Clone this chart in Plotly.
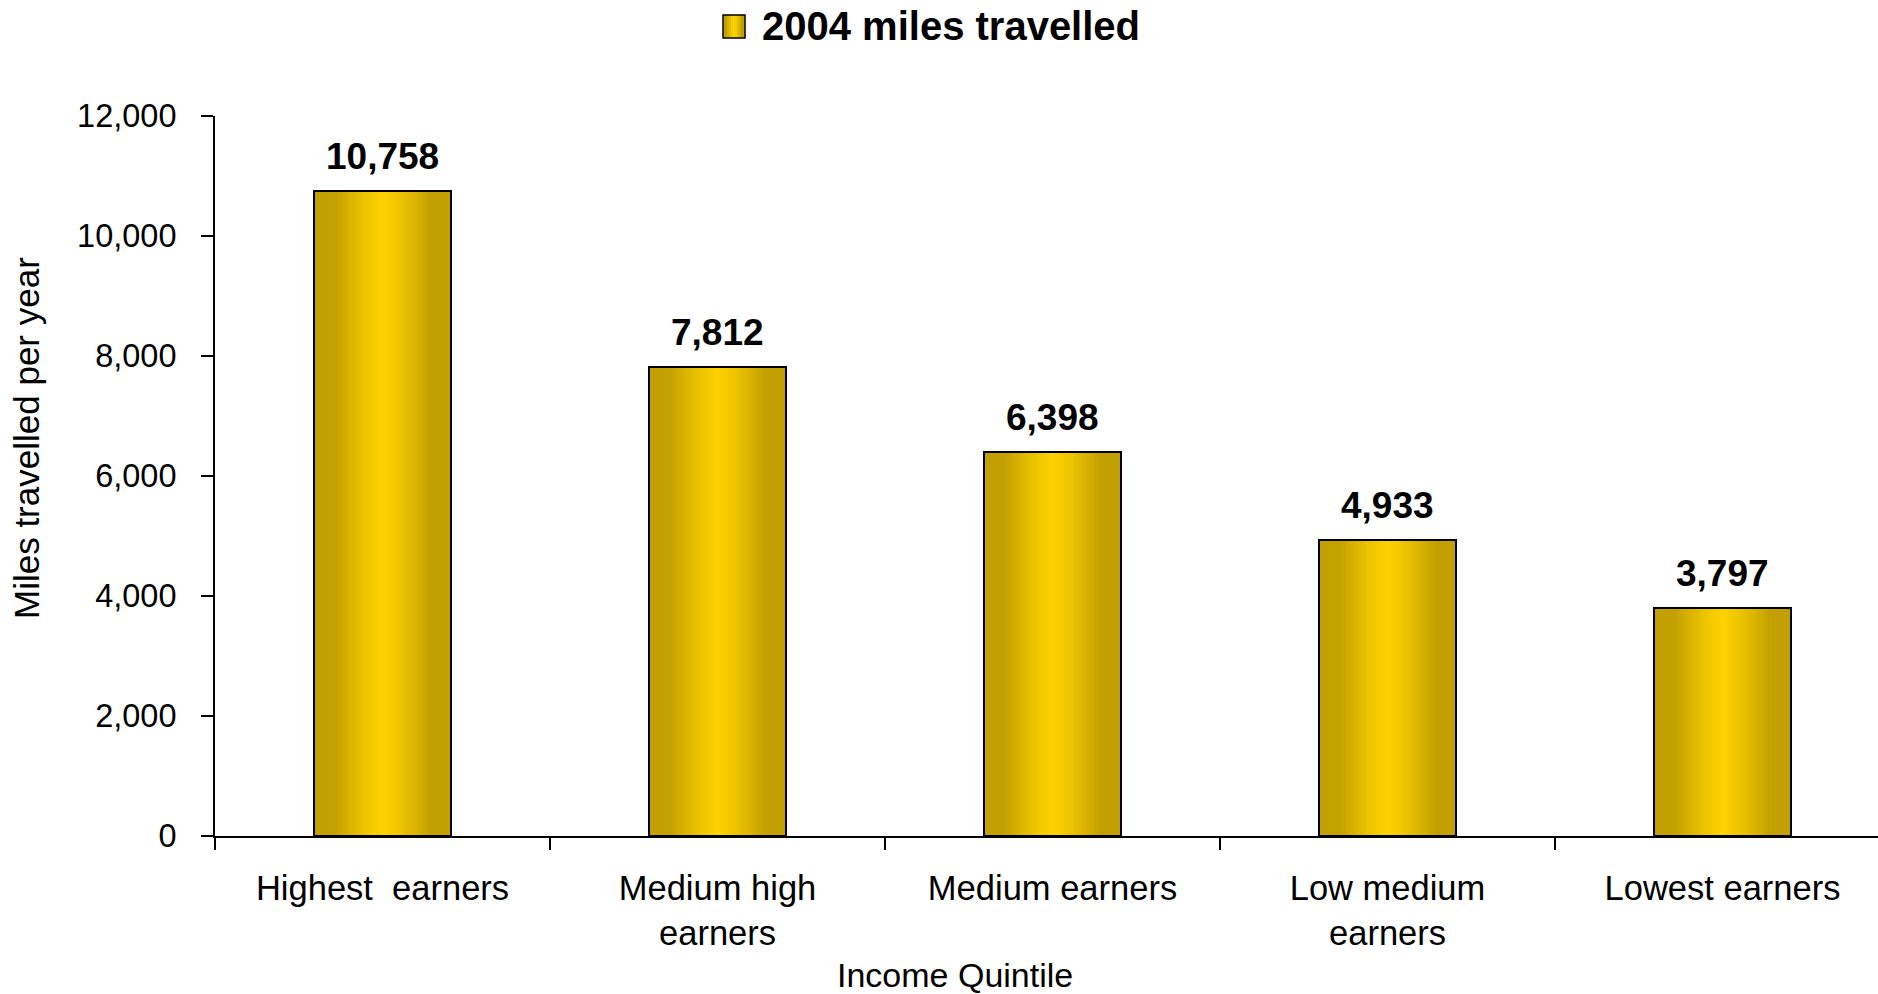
import plotly.graph_objects as go

# Data
categories = ["Highest\u00a0 earners", "Medium high<br>earners", "Medium earners",
              "Low medium<br>earners", "Lowest earners"]
miles_2004 = [10758, 7812, 6398, 4933, 3797]
y_ticks = [0, 2000, 4000, 6000, 8000, 10000, 12000]
y_tick_labels = ["0", "2,000", "4,000", "6,000", "8,000", "10,000", "12,000"]
series_name = "2004 miles travelled"

# Layout geometry (pixels)
W, H = 1878, 994
L, T, B = 215, 116, 836
FONT = "Liberation Sans, Arial, sans-serif"

def px_x(x):
    return (x - L) / (W - L)

def px_y(y):
    return (B - y) / (B - T)

BAR_W = 0.41
DARK = (194, 160, 0)
BRIGHT = (254, 210, 0)

def shade(d):
    # d: 0 at bar centre, 1 at bar edge
    t = min(1.0, d / 0.72)
    t = t ** 1.3
    c = [round(BRIGHT[i] + (DARK[i] - BRIGHT[i]) * t) for i in range(3)]
    return "rgb({},{},{})".format(*c)

fig = go.Figure()

# Horizontal gold gradient built from nested bars of decreasing width
N = 24
for k in range(N):
    d = 1 - k / N
    fig.add_trace(go.Bar(
        x=categories, y=miles_2004, width=BAR_W * d,
        marker=dict(color=shade(d), line=dict(width=0)),
        showlegend=False, hoverinfo="skip",
    ))

# Outline
fig.add_trace(go.Bar(
    x=categories, y=miles_2004, width=BAR_W,
    marker=dict(color="rgba(0,0,0,0)", line=dict(color="black", width=2)),
    name=series_name, showlegend=False,
))

annotations = []
for c, v in zip(categories, miles_2004):
    annotations.append(dict(
        x=c, y=v, xref="x", yref="y", text=f"{v:,}",
        showarrow=False, yanchor="bottom", yshift=12,
        font=dict(family=FONT, size=37, color="black", weight="bold"),
    ))

# Axis titles
annotations.append(dict(
    x=px_x(26), y=px_y(438), xref="paper", yref="paper",
    text="Miles travelled per year", textangle=-90, showarrow=False,
    xanchor="center", yanchor="middle",
    font=dict(family=FONT, size=35, color="black"),
))
annotations.append(dict(
    x=px_x(955), y=px_y(975), xref="paper", yref="paper",
    text="Income Quintile", showarrow=False,
    xanchor="center", yanchor="middle", borderpad=0,
    font=dict(family=FONT, size=34, color="black"),
))

# Legend label
annotations.append(dict(
    x=px_x(760), y=px_y(26), xref="paper", yref="paper",
    text=f"<b>{series_name}</b>", showarrow=False,
    xanchor="left", yanchor="middle",
    font=dict(family=FONT, size=40, color="black"),
))

# Legend swatch (gradient stripes + outline)
shapes = []
sx0, sx1, sy0, sy1 = 723, 745, 15, 38
strips = 11
for i in range(strips):
    a = sx0 + (sx1 - sx0) * i / strips
    b = sx0 + (sx1 - sx0) * (i + 1) / strips
    mid = (a + b) / 2
    d = abs(mid - (sx0 + sx1) / 2) / ((sx1 - sx0) / 2)
    shapes.append(dict(
        type="rect", xref="paper", yref="paper",
        x0=px_x(a), x1=px_x(b), y0=px_y(sy1), y1=px_y(sy0),
        fillcolor=shade(d), line=dict(width=0), layer="above",
    ))
shapes.append(dict(
    type="rect", xref="paper", yref="paper",
    x0=px_x(sx0), x1=px_x(sx1), y0=px_y(sy1), y1=px_y(sy0),
    fillcolor="rgba(0,0,0,0)", line=dict(color="black", width=1.5), layer="above",
))

cat_w = 335
x_end = 4.5 - (L + 5 * cat_w - W) / cat_w

fig.update_layout(
    width=W, height=H,
    margin=dict(l=L, r=0, t=T, b=H - B, pad=0),
    paper_bgcolor="white", plot_bgcolor="white",
    barmode="overlay", bargap=0,
    showlegend=False,
    annotations=annotations, shapes=shapes,
    font=dict(family=FONT, color="black"),
    xaxis=dict(
        range=[-0.5, x_end], showgrid=False, zeroline=False,
        showline=True, linecolor="black", linewidth=2,
        ticks="outside", tickson="boundaries", ticklen=12, tickwidth=1.5,
        tickcolor="black",
        tickfont=dict(family=FONT, size=34.5, color="black"),
        ticklabelstandoff=21,
    ),
    yaxis=dict(
        range=[0, 12000], tickvals=y_ticks, ticktext=y_tick_labels,
        showgrid=False, zeroline=False,
        showline=True, linecolor="black", linewidth=2,
        ticks="outside", ticklen=12, tickwidth=1.5, tickcolor="black",
        tickfont=dict(family=FONT, size=32.5, color="black"),
        ticklabelstandoff=18,
    ),
)

fig.write_html("out.html")
